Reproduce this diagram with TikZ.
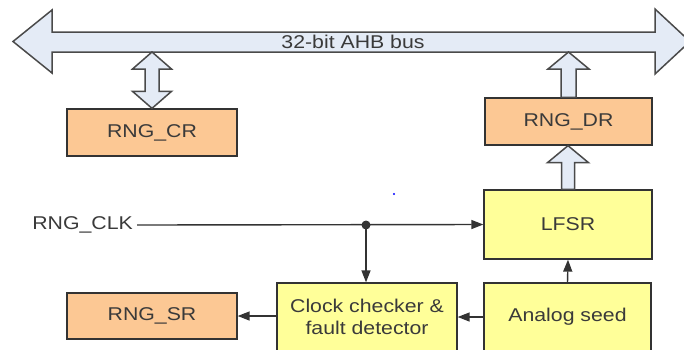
\documentclass[tikz,border=0pt]{standalone}
\usepackage{fontspec}
\setmainfont{Liberation Sans}[FakeStretch=1.15]
\usetikzlibrary{arrows.meta,calc}
\definecolor{busfill}{HTML}{E4EBF6}
\definecolor{busline}{HTML}{4A4A4A}
\definecolor{orangefill}{HTML}{FCC894}
\definecolor{yellowfill}{HTML}{FFFF99}
\definecolor{boxline}{HTML}{333333}
\definecolor{txt}{HTML}{3A3A3A}
\newcommand\upblk[3]{% tail, tip, shaft half-width
  \draw[blk] let \p1=(#1), \p2=(#2) in
    (\x1-#3pt,\y1) -- (\x1-#3pt,\y2-17pt) -- (\x1-20.5pt,\y2-17pt) -- (\x1,\y2)
    -- (\x1+20.5pt,\y2-17pt) -- (\x1+#3pt,\y2-17pt) -- (\x1+#3pt,\y1) -- cycle;}
\newcommand\bidirblk[2]{% bottom tip, top tip
  \draw[blk] let \p1=(#1), \p2=(#2) in
    (\x1,\y1) -- (\x1-19.5pt,\y1+17pt) -- (\x1-7pt,\y1+17pt) -- (\x1-7pt,\y2-17pt)
    -- (\x1-19.5pt,\y2-17pt) -- (\x1,\y2) -- (\x1+19.5pt,\y2-17pt) -- (\x1+7pt,\y2-17pt)
    -- (\x1+7pt,\y1+17pt) -- (\x1+19.5pt,\y1+17pt) -- cycle;}
\begin{document}
\begin{tikzpicture}[x=1pt,y=-1pt,
  font=\fontsize{18.5}{22}\selectfont,
  blk/.style={draw=busline,fill=busfill,line width=1.5pt,line join=miter},
  regbox/.style={draw=boxline,fill=orangefill,line width=1.3pt,text=txt,inner sep=0pt},
  logicbox/.style={draw=boxline,fill=yellowfill,line width=1.3pt,text=txt,inner sep=0pt,align=center},
  conn/.style={draw=boxline,line width=1.4pt},
  arr/.style={conn,-{Triangle[length=12pt,width=9pt]}}]
\useasboundingbox (0,0) rectangle (684,349);
% bus
\draw[blk] (13,41.5) -- (52,10) -- (52,32) -- (655,32) -- (655,9) -- (690,41.5)
  -- (655,74) -- (655,52) -- (52,52) -- (52,73) -- cycle;
\node[text=txt,inner sep=0pt] (bus) at (353,42) {32-bit AHB bus};
\coordinate (busbot) at (0,52);
% boxes
\node[regbox,minimum width=170pt,minimum height=47pt] (cr) at (152,132.5) {RNG\_CR};
\node[regbox,minimum width=167pt,minimum height=47pt] (dr) at (568.5,121.5) {RNG\_DR};
\node[logicbox,minimum width=168pt,minimum height=69pt] (lfsr) at (568,224.5) {LFSR};
\node[logicbox,minimum width=167pt,minimum height=68pt] (seed) at (567.5,317) {Analog seed};
\node[logicbox,minimum width=180pt,minimum height=68pt] (cc) at (367,317) {Clock checker \&\\fault detector};
\node[regbox,minimum width=170pt,minimum height=46pt] (sr) at (152,316) {RNG\_SR};
\node[text=txt,inner sep=0pt,anchor=east] (clk) at (133,225) {RNG\_CLK};
\coordinate (dot) at (366,225);
% block arrows
\bidirblk{cr.north}{cr.north |- busbot}
\upblk{dr.north}{dr.north |- busbot}{7.5}
\upblk{lfsr.north}{dr.south}{6.5}
% connectors
\draw[arr] ([xshift=4pt]clk.east) -- (lfsr.west);
\fill[boxline] (dot) circle (4.5pt);
\draw[arr] (dot) -- (dot |- cc.north);
\draw[arr] (seed.north) -- (lfsr.south);
\draw[arr] (seed.west |- cc.east) -- (cc.east);
\draw[arr] (cc.west |- sr.east) -- (sr.east);
\fill[blue] (394,194) circle (1.2pt);
\end{tikzpicture}
\end{document}
